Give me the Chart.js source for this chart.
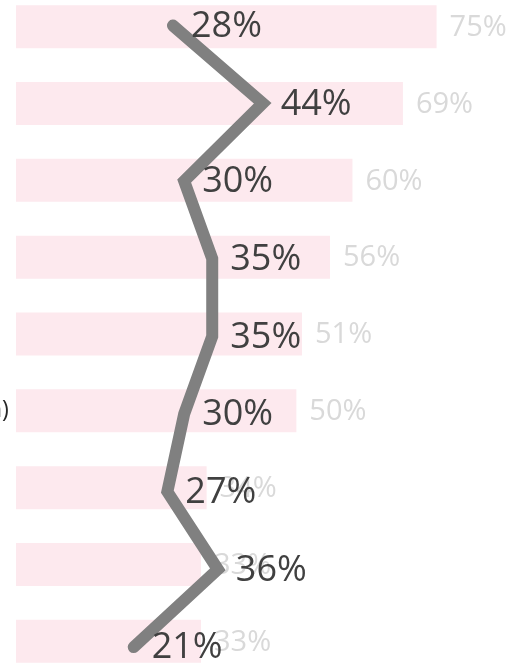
<!DOCTYPE html>
<html>
<head>
<meta charset="utf-8">
<script src="https://cdn.jsdelivr.net/npm/chart.js@4.4.1/dist/chart.umd.min.js"></script>
<style>
  html, body { margin: 0; padding: 0; background: #fff; }
  #wrap { position: relative; width: 512px; height: 664px; overflow: hidden; }
  #wrap canvas { position: absolute; top: 0; left: 0; }
</style>
</head>
<body>
<div id="wrap"><canvas id="c" width="900" height="726"></canvas></div>
<script>
// categories (only the end of the 6th label is visible in the crop)
const categories = ['Group 1', 'Group 2', 'Group 3', 'Group 4', 'Group 5', 'Group 6 (n)', 'Group 7', 'Group 8', 'Group 9'];
// pink bars, value in %
const barValues = [75, 69, 60, 56, 51, 50, 34, 33, 33];
// grey line, value in %
const lineValues = [28, 44, 30, 35, 35, 30, 27, 36, 21];

const PX_PER_PCT = 5.653; // width of 1% on the x axis
const FONT = '"Open Sans", "Noto Sans", sans-serif';

// labels: grey ones right after each bar (under the line), dark ones next to the line points
const labelPlugin = {
    id: 'labels',
    afterDatasetDraw(chart, args) {
        if (args.meta.type !== 'bar') return;
        const c = chart.ctx;
        c.save();
        c.font = '29px ' + FONT;
        c.fillStyle = '#d9d9d9';
        c.textAlign = 'left';
        c.textBaseline = 'middle';
        args.meta.data.forEach((bar, i) => {
            c.fillText(barValues[i] + '%', bar.x + 13, bar.y + 1);
        });
        c.restore();
    },
    afterDatasetsDraw(chart) {
        const meta = chart.getDatasetMeta(1);
        const c = chart.ctx;
        c.save();
        c.font = '36px ' + FONT;
        c.fillStyle = '#404040';
        c.textAlign = 'left';
        c.textBaseline = 'middle';
        meta.data.forEach((pt, i) => {
            c.fillText(lineValues[i] + '%', pt.x + 18, pt.y + 1);
        });
        c.restore();
    }
};

const canvas = document.getElementById('c');
const chart = new Chart(canvas, {
    data: {
        labels: categories,
        datasets: [
            {
                type: 'bar',
                data: barValues,
                backgroundColor: '#fde9ee',
                barPercentage: 0.56,
                categoryPercentage: 1,
                grouped: false,
                order: 2
            },
            {
                type: 'line',
                data: lineValues.map((v, i) => ({ x: v, y: i })),
                yAxisID: 'y2',
                borderColor: '#808080',
                borderWidth: 12,
                borderCapStyle: 'round',
                borderJoinStyle: 'miter',
                pointRadius: 0,
                order: 1
            }
        ]
    },
    options: {
        indexAxis: 'y',
        responsive: false,
        animation: false,
        layout: { padding: 0 },
        plugins: {
            legend: { display: false },
            tooltip: { enabled: false }
        },
        scales: {
            x: { display: false, min: 0, max: 100 },
            y: {
                grid: { display: false, drawTicks: false },
                border: { display: false },
                ticks: {
                    crossAlign: 'far',
                    padding: 3.5,
                    color: '#262626',
                    font: { family: FONT, size: 23 }
                }
            },
            // the line points sit on a slightly wider spacing than the bars
            y2: { type: 'linear', display: false, reverse: true, min: -0.48, max: 8.42 }
        }
    },
    plugins: [labelPlugin]
});

// fix the x scale to the reference's width per percent, then move the plot area to (16, -12)
chart.options.scales.x.max = (chart.chartArea.right - chart.chartArea.left) / PX_PER_PCT;
chart.update();
canvas.style.left = (16 - chart.chartArea.left) + 'px';
canvas.style.top = (-12 - chart.chartArea.top) + 'px';
</script>
</body>
</html>
